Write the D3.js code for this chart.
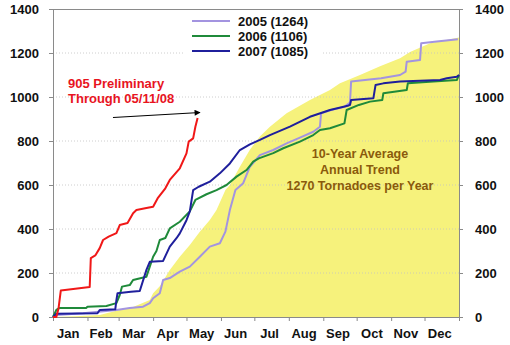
<!DOCTYPE html>
<html><head><meta charset="utf-8">
<script src="https://cdn.jsdelivr.net/npm/d3@7"></script>
<style>
html,body{margin:0;padding:0;background:#fff;}
svg{display:block;font-family:"Liberation Sans",Arial,sans-serif;font-weight:bold;}
</style></head>
<body>
<svg id="chart" width="510" height="345"></svg>
<script>
// ---- data (day of year, cumulative tornado count) ----
const months = ["Jan","Feb","Mar","Apr","May","Jun","Jul","Aug","Sep","Oct","Nov","Dec"];
const monthStarts = [0,31,59,90,120,151,181,212,243,273,304,334,365];
const yTicks = [0,200,400,600,800,1000,1200,1400];

const avg10yr = [[0,0],[20,3],[42,9],[66,40],[72,45],[87,77],[90,108],[96,140],[105,214],[114,274],[123,327],[132,388],[141,441],[147,486],[155,577],[159,600],[168,683],[177,760],[186,820],[195,865],[210,926],[231,986],[249,1032],[258,1062],[276,1100],[294,1140],[312,1176],[321,1205],[339,1244],[357,1262],[365,1270]];

const s2005 = [[0,0],[3,9],[27,17],[57,32],[69,41],[81,47],[84,55],[87,63],[90,85],[96,108],[99,168],[105,177],[114,206],[123,229],[132,274],[141,320],[150,335],[155,388],[159,486],[164,577],[171,608],[177,683],[186,736],[198,759],[210,789],[222,815],[234,842],[240,865],[241,926],[250,941],[262,955],[267,975],[268,1070],[295,1085],[312,1100],[317,1115],[318,1160],[330,1168],[331,1244],[345,1252],[364,1262]];

const s2006 = [[0,0],[3,32],[6,41],[30,41],[31,47],[48,50],[57,63],[60,100],[62,138],[69,145],[72,168],[84,183],[87,229],[90,274],[93,300],[96,350],[101,359],[105,403],[114,433],[123,480],[128,532],[138,558],[147,577],[156,600],[165,638],[174,668],[180,706],[185,721],[198,745],[207,767],[222,797],[234,827],[240,850],[249,858],[262,880],[264,941],[275,964],[285,979],[296,986],[297,1017],[318,1032],[319,1062],[342,1070],[363,1077],[365,1100]];

const s2007 = [[0,0],[3,15],[40,17],[42,32],[56,35],[57,77],[58,108],[70,115],[78,118],[84,214],[87,251],[99,255],[105,320],[111,358],[114,380],[120,440],[123,480],[126,577],[131,592],[141,615],[150,653],[159,698],[168,759],[177,785],[186,805],[195,827],[213,865],[231,910],[249,941],[265,960],[267,964],[268,986],[288,994],[290,1055],[297,1062],[312,1070],[348,1077],[354,1085],[363,1092],[365,1100]];

const s2008 = [[0,0],[3,0],[5,40],[7,120],[20,128],[33,136],[34,268],[38,280],[42,313],[45,350],[50,365],[57,381],[60,418],[67,427],[72,472],[75,486],[84,495],[90,501],[94,539],[101,585],[105,623],[114,676],[120,744],[122,797],[126,812],[128,865],[130,905]];

const legendItems = [
  {label:"2005 (1264)", color:"#a394e0", data:s2005},
  {label:"2006 (1106)", color:"#1f8a3a", data:s2006},
  {label:"2007 (1085)", color:"#1f1f9c", data:s2007}
];

// ---- layout ----
const L=53, R=459, T=9, B=317;
const svg = d3.select("#chart");
const x = d3.scaleLinear().domain([0,365]).range([L,R]);
const y = d3.scaleLinear().domain([0,1400]).range([B,T]);

// yellow average area
svg.append("path").datum(avg10yr)
  .attr("fill","#f6f27c")
  .attr("d", d3.area().x(d=>x(d[0])).y0(y(0)).y1(d=>y(d[1])));

// horizontal grid
svg.append("g").selectAll("line").data(yTicks.filter(v=>v>0&&v<1400)).join("line")
  .attr("x1",L).attr("x2",R).attr("y1",d=>y(d)).attr("y2",d=>y(d))
  .attr("stroke","#c4c4c4").attr("stroke-width",1).attr("stroke-dasharray","1,2")
  .attr("opacity",0.8);

// frame
svg.append("line").attr("x1",L).attr("x2",R).attr("y1",T+0.5).attr("y2",T+0.5).attr("stroke","#8a8a8a");

// axes
const fmt = d3.format("d");
const axL = svg.append("g").attr("transform",`translate(${L},0)`)
  .call(d3.axisLeft(y).tickValues(yTicks).tickFormat(fmt).tickSize(4).tickPadding(10));
const axR = svg.append("g").attr("transform",`translate(${R},0)`)
  .call(d3.axisRight(y).tickValues(yTicks).tickFormat(fmt).tickSize(4).tickPadding(12));
const axB = svg.append("g").attr("transform",`translate(0,${B})`)
  .call(d3.axisBottom(x).tickValues(monthStarts).tickSize(4).tickFormat(""));
[axL,axR,axB].forEach(g=>{
  g.select(".domain").attr("stroke","#8a8a8a");
  g.selectAll(".tick line").attr("stroke","#8a8a8a");
  g.selectAll("text").attr("font-family","Liberation Sans, Arial, sans-serif")
   .attr("font-weight","bold").attr("font-size","13px").attr("fill","#111");
});
axR.selectAll(".tick text").attr("text-anchor","start");

// month labels
svg.append("g").selectAll("text").data(months).join("text")
  .attr("x",(d,i)=>x((monthStarts[i]+monthStarts[i+1])/2)-2)
  .attr("y",338).attr("text-anchor","middle")
  .attr("font-size","13px").attr("fill","#111").text(d=>d);

// series lines
const line = d3.line().x(d=>x(d[0])).y(d=>y(d[1]));
legendItems.forEach(it=>{
  svg.append("path").datum(it.data).attr("fill","none")
    .attr("stroke",it.color).attr("stroke-width",2).attr("stroke-linejoin","round")
    .attr("d",line);
});
svg.append("path").datum(s2008).attr("fill","none")
  .attr("stroke","#f01818").attr("stroke-width",2).attr("stroke-linejoin","round")
  .attr("d",line);

// legend
const lg = svg.append("g");
lg.append("rect").attr("x",183).attr("y",11).attr("width",140).attr("height",45).attr("fill","#fff");
legendItems.forEach((it,i)=>{
  const yy = 21 + i*15;
  lg.append("line").attr("x1",192).attr("x2",230).attr("y1",yy).attr("y2",yy)
    .attr("stroke",it.color).attr("stroke-width",2);
  lg.append("text").attr("x",238).attr("y",yy+4.5).attr("font-size","13px")
    .attr("fill","#111").text(it.label);
});

// annotation red
svg.append("text").attr("x",68).attr("y",88).attr("font-size","13px").attr("fill","#e8141e").text("905 Preliminary");
svg.append("text").attr("x",68).attr("y",103).attr("font-size","13px").attr("fill","#e8141e").text("Through 05/11/08");

// arrow
const defs = svg.append("defs");
defs.append("marker").attr("id","ah").attr("viewBox","0 0 10 10").attr("refX",9).attr("refY",5)
  .attr("markerWidth",7).attr("markerHeight",6).attr("orient","auto").attr("markerUnits","userSpaceOnUse")
  .append("path").attr("d","M0,0L10,5L0,10z").attr("fill","#000");
svg.append("line").attr("x1",113).attr("y1",117.5).attr("x2",200).attr("y2",112.5)
  .attr("stroke","#000").attr("stroke-width",1.2).attr("marker-end","url(#ah)");

// average annotation
const avgText = ["10-Year Average","Annual Trend","1270 Tornadoes per Year"];
svg.append("g").selectAll("text").data(avgText).join("text")
  .attr("x",360).attr("y",(d,i)=>158+i*16).attr("text-anchor","middle")
  .attr("font-size","12.5px").attr("fill","#8a5a0c").text(d=>d);
</script>
</body></html>
